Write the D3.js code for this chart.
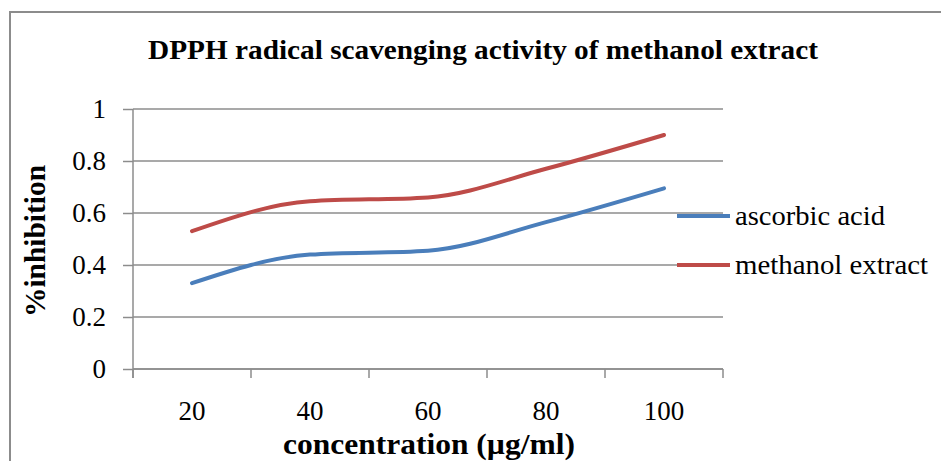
<!DOCTYPE html>
<html>
<head>
<meta charset="utf-8">
<script src="https://cdn.jsdelivr.net/npm/d3@7"></script>
</head>
<body style="margin:0">
<svg width="941" height="461" font-family="Liberation Serif"></svg>
<script>
// data
var concentrations = ["20", "40", "60", "80", "100"];
var ascorbicAcid = [0.33, 0.44, 0.455, 0.565, 0.695];
var methanolExtract = [0.53, 0.645, 0.66, 0.77, 0.90];
var yTicks = [0, 0.2, 0.4, 0.6, 0.8, 1];

var series = [
  {name: "ascorbic acid", values: ascorbicAcid, color: "#4A7EBB"},
  {name: "methanol extract", values: methanolExtract, color: "#BE4B48"}
];

var fontName = "Liberation Serif";
var svg = d3.select("svg");
var plot = {left: 133, right: 723, top: 109, bottom: 369};

// chart frame
svg.append("rect")
    .attr("x", 10).attr("y", 12)
    .attr("width", 960).attr("height", 480)
    .attr("fill", "none")
    .attr("stroke", "#8c8c8c")
    .attr("stroke-width", 2);

var xBand = d3.scaleBand()
    .domain(concentrations)
    .range([plot.left, plot.right]);

var x = d3.scalePoint()
    .domain(concentrations)
    .range([plot.left, plot.right])
    .padding(0.5);

var y = d3.scaleLinear()
    .domain([0, 1])
    .range([plot.bottom, plot.top]);

// gridlines
svg.append("g")
  .selectAll("line")
  .data(yTicks)
  .enter().append("line")
    .attr("x1", plot.left).attr("x2", plot.right)
    .attr("y1", function(d) { return y(d); })
    .attr("y2", function(d) { return y(d); })
    .attr("stroke", "#8c8c8c")
    .attr("stroke-width", 1.5);

// y axis
var yAxis = svg.append("g")
    .attr("transform", "translate(" + plot.left + ",0)")
    .call(d3.axisLeft(y).tickValues(yTicks).tickSize(10).tickPadding(17)
        .tickFormat(function(d) { return d === 0 || d === 1 ? d : d3.format(".1f")(d); }));
yAxis.attr("font-family", null).attr("font-size", null);
yAxis.select(".domain").attr("stroke", "#8c8c8c").attr("stroke-width", 1.5)
    .attr("d", "M0," + (plot.top) + "V" + (plot.bottom + 9));
yAxis.selectAll(".tick line").attr("stroke", "#8c8c8c").attr("stroke-width", 1.5);
yAxis.selectAll(".tick text")
    .attr("fill", "#000")
    .attr("font-family", fontName)
    .attr("font-size", 27);

// x axis: ticks sit between categories
var bounds = concentrations.map(function(c) { return xBand(c); }).concat([plot.right]);
var xAxis = svg.append("g");
xAxis.append("line")
    .attr("x1", plot.left).attr("x2", plot.right)
    .attr("y1", plot.bottom).attr("y2", plot.bottom)
    .attr("stroke", "#8c8c8c").attr("stroke-width", 1.5);
xAxis.selectAll(".bound")
  .data(bounds)
  .enter().append("line")
    .attr("class", "bound")
    .attr("x1", function(d) { return d; }).attr("x2", function(d) { return d; })
    .attr("y1", plot.bottom).attr("y2", plot.bottom + 9)
    .attr("stroke", "#8c8c8c").attr("stroke-width", 1.5);
xAxis.selectAll(".lbl")
  .data(concentrations)
  .enter().append("text")
    .attr("class", "lbl")
    .attr("x", function(d) { return x(d); })
    .attr("y", 420)
    .attr("text-anchor", "middle")
    .attr("font-family", fontName)
    .attr("font-size", 27)
    .text(function(d) { return d; });

// lines
var line = d3.line()
    .x(function(d, i) { return x(concentrations[i]); })
    .y(function(d) { return y(d); })
    .curve(d3.curveMonotoneX);

svg.append("g")
  .selectAll("path")
  .data(series)
  .enter().append("path")
    .attr("d", function(s) { return line(s.values); })
    .attr("fill", "none")
    .attr("stroke", function(s) { return s.color; })
    .attr("stroke-width", 4)
    .attr("stroke-linejoin", "round")
    .attr("stroke-linecap", "round");

// legend
var legend = svg.append("g")
  .selectAll("g")
  .data(series)
  .enter().append("g")
    .attr("transform", function(d, i) { return "translate(677," + (216 + i * 49) + ")"; });
legend.append("line")
    .attr("x1", 0).attr("x2", 53)
    .attr("stroke", function(d) { return d.color; })
    .attr("stroke-width", 4);
legend.append("text")
    .attr("x", 58).attr("y", 9)
    .attr("font-family", fontName)
    .attr("font-size", 27)
    .attr("textLength", function(d, i) { return i === 0 ? 150 : 193; })
    .attr("lengthAdjust", "spacingAndGlyphs")
    .text(function(d) { return d.name; });

// titles
svg.append("text")
    .attr("x", 483).attr("y", 59)
    .attr("text-anchor", "middle")
    .attr("font-family", fontName)
    .attr("font-size", 27)
    .attr("font-weight", "bold")
    .attr("textLength", 670)
    .attr("lengthAdjust", "spacingAndGlyphs")
    .text("DPPH radical scavenging activity of methanol extract");

svg.append("text")
    .attr("x", 429).attr("y", 454)
    .attr("text-anchor", "middle")
    .attr("font-family", fontName)
    .attr("font-size", 30)
    .attr("font-weight", "bold")
    .attr("textLength", 292)
    .attr("lengthAdjust", "spacingAndGlyphs")
    .text("concentration (µg/ml)");

svg.append("text")
    .attr("transform", "translate(45,241) rotate(-90)")
    .attr("text-anchor", "middle")
    .attr("font-family", fontName)
    .attr("font-size", 29)
    .attr("font-weight", "bold")
    .attr("textLength", 152)
    .attr("lengthAdjust", "spacingAndGlyphs")
    .text("%inhibition");
</script>
</body>
</html>
